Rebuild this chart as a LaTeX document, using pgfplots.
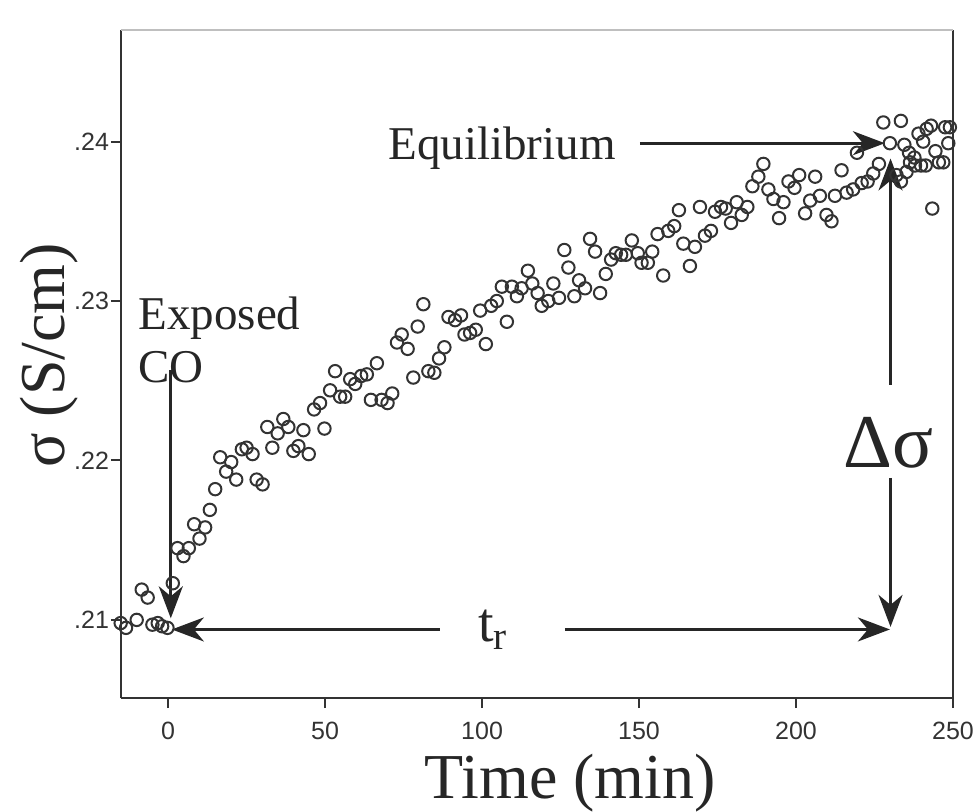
\documentclass[border=0pt]{standalone}
\usepackage{fontspec}
\setmainfont{Liberation Serif}
\newfontfamily\sansf{Liberation Sans}
\usepackage{pgfplots}
\usepackage{pgfplotstable}
\pgfplotsset{compat=1.18}
\usetikzlibrary{arrows.meta}
\newcommand{\axlab}{\fontsize{32}{38}\selectfont}
\newcommand{\anno}{\fontsize{23.5}{28}\selectfont}
\newcommand{\bigan}{\fontsize{38}{44}\selectfont}
\newcommand{\tfont}{\fontsize{28}{32}\selectfont}
\pgfplotstableread{
x y
-15.1 .2098
-13.4 .2095
-10.0 .2100
-8.4 .2119
-6.5 .2114
-5.0 .2097
-3.3 .2098
-1.9 .2096
-0.2 .2095
1.5 .2123
3.0 .2145
4.9 .2140
6.6 .2145
8.3 .2160
10.0 .2151
11.8 .2158
13.3 .2169
15.0 .2182
16.6 .2202
18.5 .2193
20.1 .2199
21.7 .2188
23.5 .2207
25.0 .2208
26.9 .2204
28.2 .2188
30.1 .2185
31.6 .2221
33.2 .2208
34.9 .2217
36.7 .2226
38.3 .2221
39.9 .2206
41.5 .2209
43.1 .2219
44.8 .2204
46.5 .2232
48.4 .2236
49.8 .2220
51.6 .2244
53.2 .2256
54.8 .2240
56.4 .2240
58.0 .2251
59.6 .2248
61.5 .2253
63.3 .2254
64.6 .2238
66.5 .2261
68.0 .2238
69.9 .2236
71.4 .2242
72.9 .2274
74.4 .2279
76.3 .2270
78.1 .2252
79.5 .2284
81.3 .2298
82.9 .2256
84.8 .2255
86.3 .2264
88.0 .2271
89.3 .2290
91.4 .2288
93.3 .2291
94.4 .2279
96.2 .2280
98.0 .2282
99.4 .2294
101.2 .2273
102.9 .2297
104.7 .2300
106.3 .2309
107.9 .2287
109.5 .2309
111.1 .2303
112.6 .2308
114.6 .2319
116.0 .2311
117.7 .2305
119.0 .2297
121.1 .2300
122.7 .2311
124.5 .2302
126.2 .2332
127.5 .2321
129.4 .2303
130.9 .2313
132.8 .2308
134.4 .2339
136.0 .2331
137.6 .2305
139.4 .2317
141.1 .2326
142.6 .2330
144.3 .2329
145.8 .2329
147.7 .2338
149.6 .2330
150.8 .2324
152.8 .2324
154.2 .2331
155.9 .2342
157.7 .2316
159.3 .2344
161.2 .2347
162.7 .2357
164.1 .2336
166.2 .2322
167.8 .2334
169.4 .2359
171.0 .2341
172.9 .2344
174.2 .2356
176.1 .2359
177.6 .2358
179.3 .2349
181.1 .2362
182.7 .2354
184.5 .2359
186.1 .2372
188.0 .2378
189.6 .2386
191.2 .2370
192.8 .2364
194.6 .2352
196.0 .2362
197.6 .2375
199.5 .2371
201.0 .2379
202.9 .2355
204.5 .2363
206.1 .2378
207.6 .2366
209.7 .2354
211.3 .2350
212.4 .2366
214.5 .2382
216.1 .2368
218.2 .2370
219.4 .2393
220.9 .2374
222.8 .2375
224.6 .2380
226.4 .2386
227.8 .2412
229.9 .2399
232.0 .2379
233.4 .2413
233.4 .2375
234.5 .2398
235.2 .2381
236.0 .2393
236.3 .2387
237.7 .2390
237.9 .2385
239.0 .2405
239.8 .2385
240.5 .2400
241.3 .2385
241.6 .2408
243.0 .2410
243.4 .2358
244.4 .2394
245.5 .2387
246.9 .2387
247.5 .2409
248.5 .2399
249.0 .2409
}\datatable
\begin{document}
\begin{tikzpicture}
\begin{axis}[
  at={(0,0)}, anchor=south west,
  scale only axis,
  width=416pt, height=334pt,
  xmin=-15, xmax=250,
  ymin=0.2051, ymax=0.2470,
  clip=false,
  axis x line*=bottom, axis y line*=left,
  axis line style={-, draw=black!80, line width=1pt},
  xtick={0,50,100,150,200,250},
  xticklabels={0,50,100,150,200,250},
  ytick={0.21,0.22,0.23,0.24},
  yticklabels={.21,.22,.23,.24},
  tick align=outside,
  major tick length=5pt,
  tick style={draw=black!80, line width=1pt},
  ticklabel style={font=\sansf\fontsize{12.5}{14}\selectfont, text=black!80},
  xticklabel style={yshift=-3.5pt},
  yticklabel style={xshift=2.5pt},
]
\addplot[only marks, mark=o, mark size=3.1pt,
  mark options={line width=1pt, draw=black!80}] table[x=x,y=y] {\datatable};
\draw[black!80, line width=1pt] (axis description cs:1,0) -- (axis description cs:1,1);
\draw[black!25, line width=0.8pt] (axis description cs:0,1) -- (axis description cs:1,1);
\tikzset{arr/.style={line width=1.5pt, draw=black!85, -{Stealth[length=16pt,width=12pt,inset=5pt]}}}
\draw[arr] (axis cs:150.3,0.2399) -- (axis cs:228.3,0.2399);
\draw[arr] (axis cs:0.86,0.2257) -- (axis cs:0.86,0.2101);
\draw[arr] (axis cs:86.6,0.2094) -- (axis cs:1.2,0.2094);
\draw[arr] (axis cs:126.4,0.2094) -- (axis cs:229.9,0.2094);
\draw[arr] (axis cs:230.1,0.22475) -- (axis cs:230.1,0.23894);
\draw[arr] (axis cs:230.1,0.21891) -- (axis cs:230.1,0.20956);
\node[anchor=base west, inner sep=0pt, font=\anno, text=black!85] at (axis cs:-9.55,0.22820) {Exposed};
\node[anchor=base west, inner sep=0pt, font=\anno, text=black!85] at (axis cs:-9.55,0.22488) {CO};
\node[anchor=base, inner sep=0pt, font=\anno, text=black!85] at (axis cs:106.4,0.2389) {Equilibrium};
\node[anchor=base, inner sep=0pt, font=\bigan, text=black!85] at (axis cs:229.4,0.21954) {Δσ};
\node[anchor=base, inner sep=0pt, font=\tfont, text=black!85] at (axis cs:103.5,0.20862) {t\textsubscript{r}};
\node[anchor=base, inner sep=0pt, font=\axlab, text=black!85] at (axis description cs:0.540,-0.150) {Time (min)};
\node[rotate=90, anchor=center, inner sep=0pt, font=\axlab, text=black!85] at (axis description cs:-0.086,0.513) {σ (S/cm)};
\end{axis}
\pgfresetboundingbox
\path[use as bounding box] (-60.5pt,-56.5pt) rectangle (428.5pt,349pt);
\end{tikzpicture}
\end{document}
